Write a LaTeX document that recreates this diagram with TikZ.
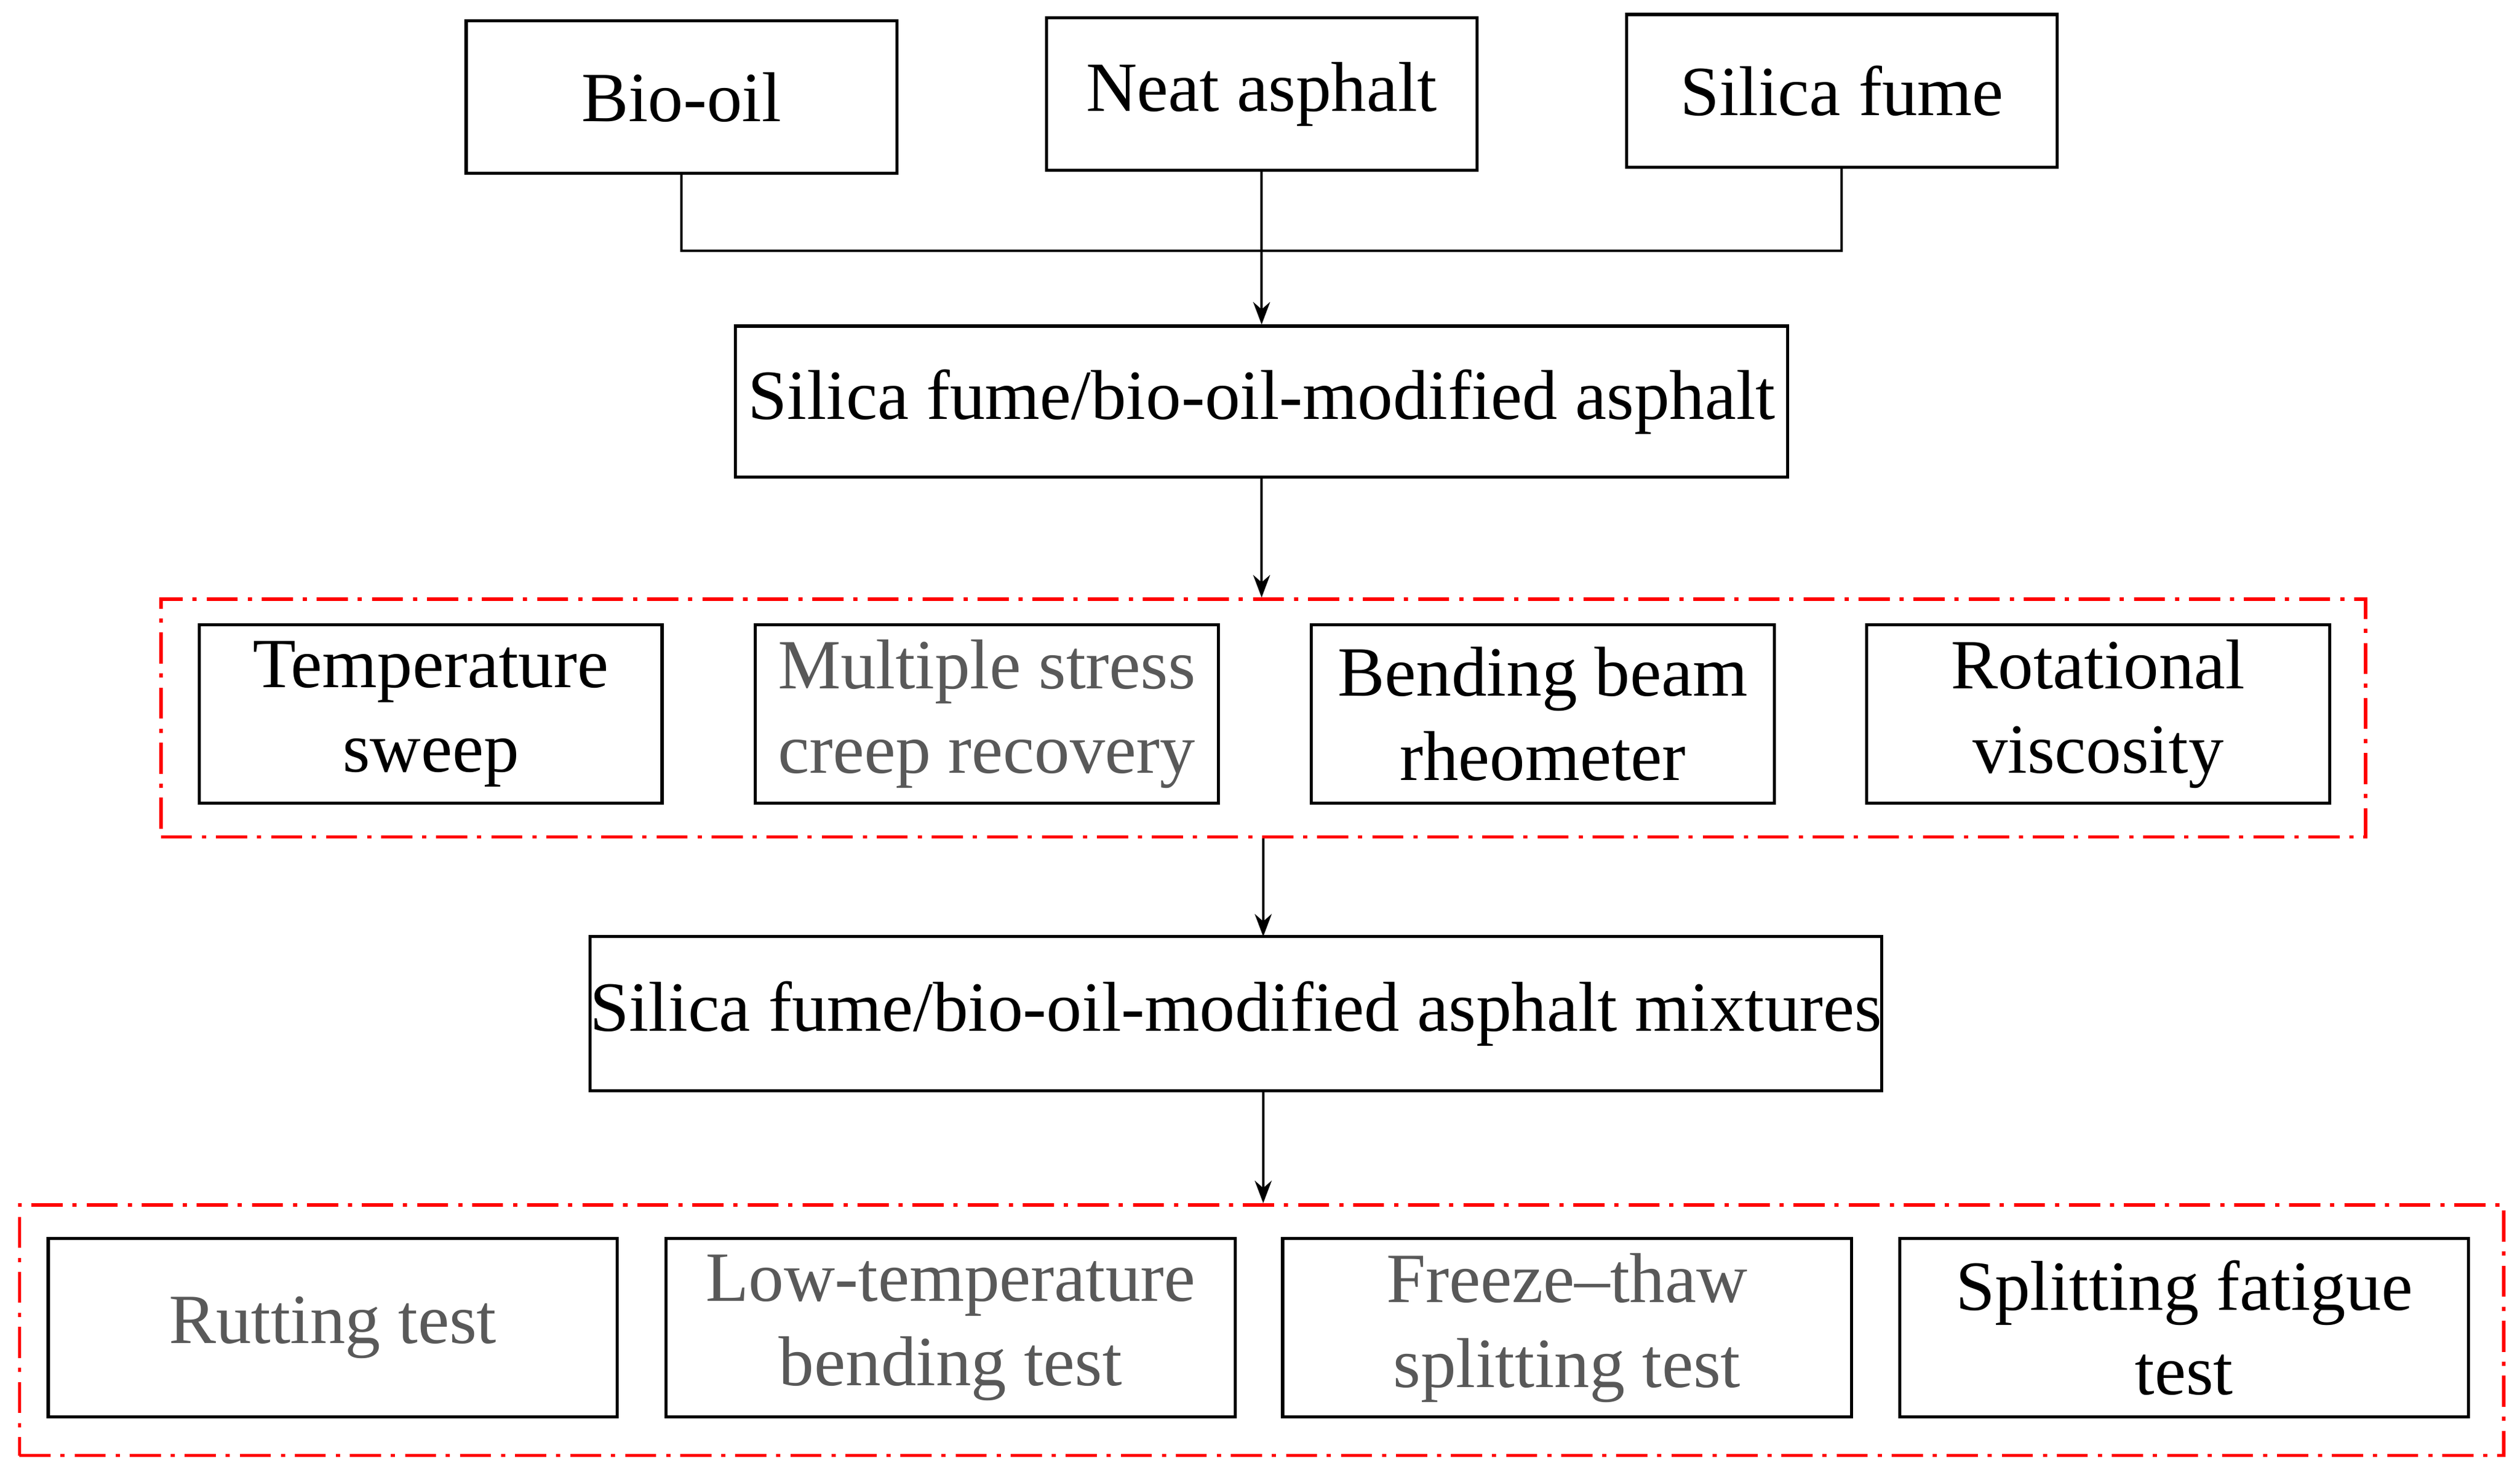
\documentclass[tikz,border=0pt]{standalone}
\usepackage{fontspec}
\setmainfont{Liberation Serif}
\usetikzlibrary{arrows.meta}
\begin{document}
\begin{tikzpicture}[x=0.02cm,y=-0.02cm,
  box/.style={draw=black,line width=1.1pt,align=center,inner sep=0pt,font=\fontsize{25}{30}\selectfont},
  gbox/.style={box,text=black!65},
  red/.style={draw=red,line width=1.2pt,dash pattern=on 11pt off 3.5pt on 1.5pt off 3.5pt,inner sep=0pt},
  conn/.style={draw=black,line width=0.8pt},
  arr/.style={conn,-{Stealth[length=8pt,width=6pt]}}]
\useasboundingbox (0,0) rectangle (1568,916);
\node[box,minimum width=5.36cm,minimum height=1.9cm] (bio) at (424,60.5) {Bio-oil};
\node[box,minimum width=5.36cm,minimum height=1.9cm] (neat) at (785,58.5) {Neat asphalt};
\node[box,minimum width=5.36cm,minimum height=1.9cm] (sf) at (1146,56.5) {Silica fume};
\node[box,minimum width=13.1cm,minimum height=1.88cm] (mod) at (785,250) {Silica fume/bio-oil-modified asphalt};
\node[red,minimum width=27.44cm,minimum height=2.96cm] (r1) at (786,447) {};
\node[box,minimum width=5.76cm,minimum height=2.22cm] (t1) at (268,444.5) {Temperature\\sweep};
\node[gbox,minimum width=5.76cm,minimum height=2.22cm] (t2) at (614,444.5) {Multiple stress\\creep recovery};
\node[box,minimum width=5.76cm,minimum height=2.22cm] (t3) at (960,444.5) {Bending beam\\rheometer};
\node[box,minimum width=5.76cm,minimum height=2.22cm] (t4) at (1305.5,444.5) {Rotational\\viscosity};
\node[box,minimum width=15.68cm,minimum height=1.92cm] (mix) at (769,631) {Silica fume/bio-oil-modified asphalt mixtures};
\node[red,minimum width=30.92cm,minimum height=3.12cm] (r2) at (785,828) {};
\node[gbox,minimum width=7.08cm,minimum height=2.22cm] (m1) at (207,826.5) {Rutting test};
\node[gbox,minimum width=7.08cm,minimum height=2.22cm] (m2) at (591.5,826.5) {Low-temperature\\bending test};
\node[gbox,minimum width=7.08cm,minimum height=2.22cm] (m3) at (975,826.5) {Freeze--thaw\\splitting test};
\node[box,minimum width=7.08cm,minimum height=2.22cm] (m4) at (1359,826.5) {Splitting fatigue\\test};
\coordinate (j) at (785,156);
\draw[conn] (bio.south) |- (j) -| (sf.south);
\draw[arr] (neat.south) -- (mod.north);
\draw[arr] (mod.south) -- (mod.south|-r1.north);
\draw[arr] (r1.south-|mix.north-|786,0) -- (786,583) coordinate (mixin);
\draw[arr] (mix.south-|786,0) -- (r2.north-|786,0);
\end{tikzpicture}
\end{document}
